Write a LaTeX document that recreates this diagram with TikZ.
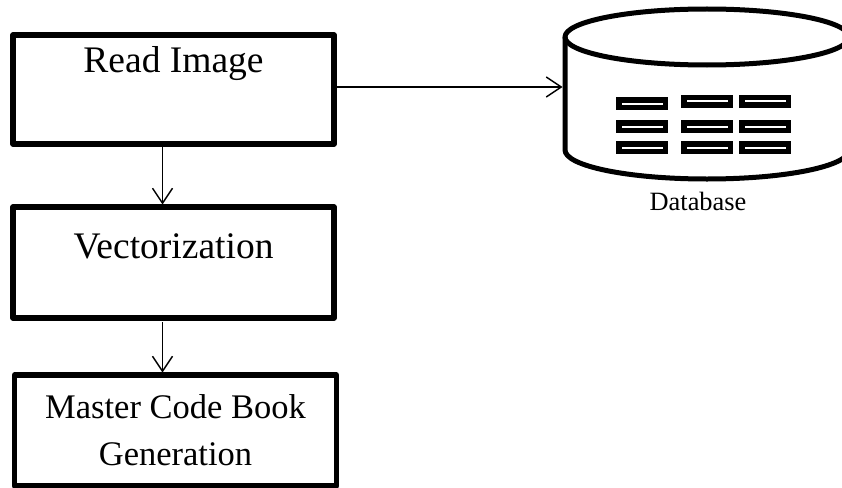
\documentclass[tikz,border=0pt]{standalone}
\usepackage{fontspec}
\setmainfont{Liberation Serif}
\usetikzlibrary{arrows.meta}
\tikzset{
  flowbox/.style={draw=black,line width=5.3pt,line join=round,rectangle,inner sep=0pt,outer sep=0pt,align=center},
  link/.style={draw=black,line width=1.4pt,-{Straight Barb[length=15pt,width=20pt,line width=1.4pt]},shorten >=2.5pt},
  slot/.style={draw=black,line width=5.5pt,fill=white,miter limit=10},
  dbline/.style={draw=black,line width=5pt,line join=round},
  bigtext/.style={font=\fontsize{37.5}{44}\selectfont},
  mastertext/.style={font=\fontsize{34.5}{47}\selectfont}
}
\begin{document}
\begin{tikzpicture}[x=1pt,y=-1pt]
\useasboundingbox (0,0) rectangle (842,487);
\clip (0,0) rectangle (842,487);
\fill[white] (0,0) rectangle (842,487);
% boxes
\node[flowbox,bigtext,minimum width=321pt,text height=37pt,text depth=72pt] (read) at (173.5,35) [anchor=north] {Read Image};
\node[flowbox,bigtext,minimum width=321pt,text height=51pt,text depth=60pt] (vec) at (173.5,207) [anchor=north] {Vectorization};
\node[flowbox,mastertext,minimum width=322pt,minimum height=111pt] (master) at (175.5,375) [anchor=north] {Master Code Book\\Generation};
% database
\node[minimum width=284pt,minimum height=1pt,inner sep=0pt,outer sep=0pt] (db) at (707,87) {};
\draw[dbline] (565,37) -- (565,150) .. controls (565,166) and (628,179) .. (707,179) .. controls (786,179) and (849,166) .. (849,150) -- (849,37);
\draw[dbline] (707,37) ellipse [x radius=142,y radius=28];
\foreach \n/\cx/\cy in {a/642/103.5,b/707/101.3,c/765/101.3,d/642/126.5,e/707/126.5,f/765/126.5,g/642/147.5,h/707/147.5,i/765/147.5}{
  \draw[slot] (\cx-23.25,\cy-3.75) rectangle (\cx+23.25,\cy+3.75);
}
\node[font=\fontsize{26.4}{30}\selectfont,inner sep=0pt,anchor=base] (dblabel) at (698,210) {Database};
% connectors
\draw[link] (read.east |- db.west) -- (db.west);
\draw[link] ([xshift=-11pt]read.south) -- ([xshift=-11pt]read.south |- vec.north);
\draw[link] ([xshift=-11pt,yshift=-4pt]vec.south) -- ([xshift=-11pt]vec.south |- master.north);
\end{tikzpicture}
\end{document}
